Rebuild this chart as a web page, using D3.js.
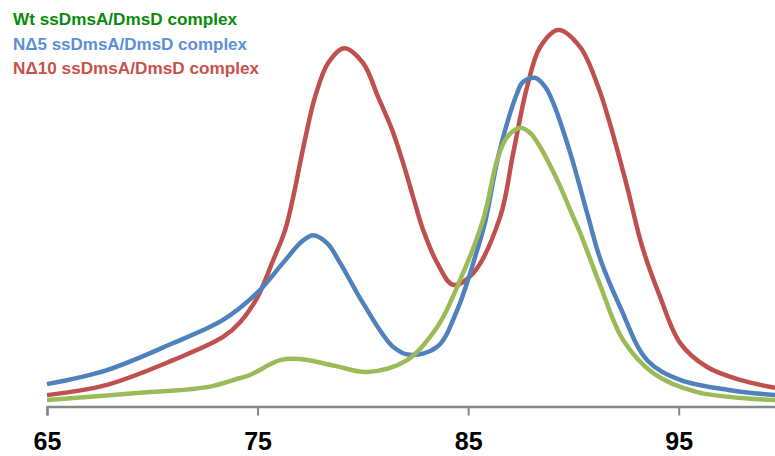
<!DOCTYPE html>
<html>
<head>
<meta charset="utf-8">
<script src="https://d3js.org/d3.v7.min.js"></script>
<style>
body{margin:0;background:#fff}
</style>
</head>
<body>
<div id="chart"></div>
<script>
var width = 775
var height = 456

// temperature (x) and normalised signal (y)
var wtX  = [65.0,69.42,72.6,74.17,74.64,76.07,77.02,78.68,80.2,82.1,83.53,84.48,85.71,86.38,86.85,87.47,87.95,88.42,89.23,89.99,90.32,91.27,92.36,93.79,95.88,99.58]
var wtY  = [1.3,3.2,4.7,7.1,7.9,11.8,12.1,10.3,8.7,11.8,20.5,31.1,48.7,64.5,70.5,72.9,71.6,67.9,59.2,49.5,45.3,31.5,17.1,8.4,3.4,1.3]

var n5X  = [65.0,67.85,70.99,73.36,74.98,76.21,77.1,77.64,78.3,78.92,80.01,81.44,82.24,83.53,84.48,85.43,85.81,86.47,87.33,87.6,88.18,88.66,89.04,89.85,90.7,91.27,92.22,93.5,95.07,97.45,99.58]
var n5Y  = [5.5,9.2,16.3,22.4,29.5,37.4,43.0,44.7,42.6,37.4,26.8,15.3,13.2,15.3,25.0,40.8,48.2,66.3,82.1,85.0,86.1,83.7,79.5,66.3,49.5,38.5,25.8,11.8,6.6,3.9,2.6]

var n10X = [65.0,67.85,70.99,73.36,74.17,74.98,75.69,76.31,76.69,77.02,77.35,77.73,78.35,79.11,80.01,80.72,81.39,81.91,82.39,82.86,83.53,84.29,85.24,86.52,87.14,87.8,88.42,89.28,90.32,91.18,91.75,92.55,93.27,94.12,95.07,96.35,97.92,99.58]
var n10Y = [2.6,5.3,11.8,17.9,21.8,28.2,37.4,46.1,54.7,63.7,72.4,81.1,90.0,93.9,90.0,81.1,72.4,63.7,54.7,46.1,37.4,31.6,34.7,49.5,66.3,83.7,94.2,98.7,94.2,83.7,73.7,57.4,41.6,28.4,16.3,10.0,6.6,4.5]

var seriesNames = ["Wt ssDmsA/DmsD complex","N\u03945 ssDmsA/DmsD complex","N\u039410 ssDmsA/DmsD complex"]
var tickValues = [65,75,85,95]

var lineColors = ["#9bbb59","#4f81bd","#c0504d"]
var textColors = ["#0a8a0a","#5b8fd6","#c9504c"]

var svg = d3.select("#chart").append("svg")
	.attr("width",width)
	.attr("height",height)

var x = d3.scaleLinear().domain([65,100]).range([47,784])
var y = d3.scaleLinear().domain([0,100]).range([405,25])

// axis
var axis = d3.axisBottom(x).tickValues(tickValues).tickSize(9).tickFormat(d3.format("d"))
var gx = svg.append("g")
	.attr("transform","translate(0,406.5)")
	.call(axis)
gx.select(".domain").attr("stroke","#888").attr("stroke-width",2.5)
gx.selectAll(".tick line").attr("stroke","#888").attr("stroke-width",2)
gx.selectAll(".tick text")
	.attr("y",43.5)
	.attr("dy",0)
	.attr("fill","#000")
	.style("font-family","Liberation Sans, Arial, sans-serif")
	.style("font-weight","bold")
	.style("font-size","25px")

var line = d3.line()
	.x(function(d){return x(d[0])})
	.y(function(d){return y(d[1])})
	.curve(d3.curveCatmullRom.alpha(0.5))

var series = [
	d3.zip(wtX,wtY),
	d3.zip(n5X,n5Y),
	d3.zip(n10X,n10Y)
]
// draw red first, green last (green on top like the reference)
var order = [2,1,0]
order.forEach(function(i){
	svg.append("path")
		.datum(series[i])
		.attr("d",line)
		.attr("fill","none")
		.attr("stroke",lineColors[i])
		.attr("stroke-width",4.5)
		.attr("stroke-linejoin","round")
})

// legend
var legendWidths = [224,234,246]
svg.selectAll(".legend")
	.data(seriesNames)
	.enter()
	.append("text")
	.attr("class","legend")
	.attr("x",13)
	.attr("y",function(d,i){return 25+i*24.5})
	.attr("fill",function(d,i){return textColors[i]})
	.style("font-family","Liberation Sans, Arial, sans-serif")
	.style("font-weight","bold")
	.style("font-size","17px")
	.attr("textLength",function(d,i){return legendWidths[i]})
	.attr("lengthAdjust","spacingAndGlyphs")
	.text(function(d){return d})
</script>
</body>
</html>
